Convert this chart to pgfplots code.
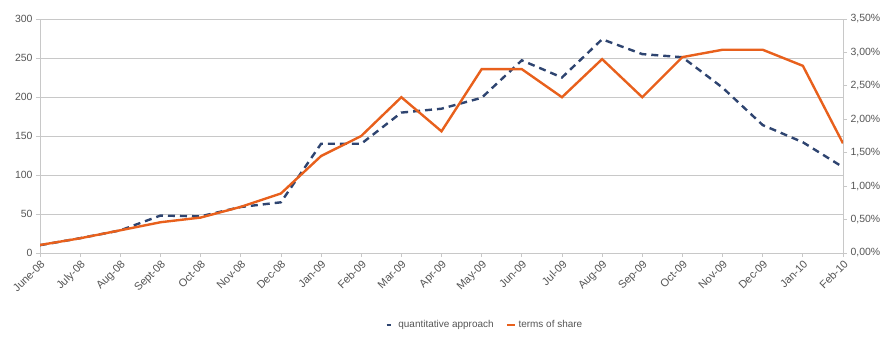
\documentclass[border=0pt]{standalone}
\usepackage{pgfplots}
\pgfplotsset{compat=1.18}
\usepackage{fontspec}
\setmainfont{Liberation Sans}

\definecolor{quantblue}{HTML}{2E4470}
\definecolor{shareorange}{HTML}{E8601C}
\definecolor{gridgray}{HTML}{C8C8C8}
\definecolor{labelgray}{HTML}{555555}

% quantitative approach (left axis)
\pgfplotstableread{
x y
0 10
1 19
2 29
3 48
4 47
5 59
6 65
7 140
8 140
9 180
10 185
11 199
12 247
13 225
14 274
15 255
16 251
17 212
18 164
19 142
20 110
}\quant

% terms of share, in percent (right axis)
\pgfplotstableread{
x y
0 0.12
1 0.22
2 0.34
3 0.46
4 0.53
5 0.69
6 0.89
7 1.45
8 1.75
9 2.33
10 1.82
11 2.75
12 2.75
13 2.33
14 2.90
15 2.33
16 2.93
17 3.04
18 3.04
19 2.80
20 1.64
}\share

\pgfplotsset{
  base/.style={
    scale only axis,
    width=803bp, height=234bp,
    xmin=0, xmax=20,
    ymin=0,
    axis line style={gridgray, line width=0.8pt},
    tick style={gridgray, line width=0.8pt},
    major tick length=4bp,
    tick align=outside,
    ticklabel style={font=\fontsize{10.5}{12}\selectfont, text=labelgray},
    /pgf/number format/assume math mode=true,
  }
}

\begin{document}
\begin{tikzpicture}
\useasboundingbox (0,0) rectangle (887bp,340bp);
\begin{axis}[
  base,
  at={(40bp,87bp)}, anchor=south west,
  ymax=300,
  ytick={0,50,...,300},
  ymajorgrids,
  grid style={gridgray, line width=0.9pt},
  axis x line*=bottom,
  axis y line*=left,
  xtick={0,...,20},
  xticklabels={June-08,July-08,Aug-08,Sept-08,Oct-08,Nov-08,Dec-08,Jan-09,Feb-09,Mar-09,Apr-09,May-09,Jun-09,Jul-09,Aug-09,Sep-09,Oct-09,Nov-09,Dec-09,Jan-10,Feb-10},
  xticklabel style={rotate=45, anchor=north east, inner sep=1.5bp, font=\fontsize{11}{12}\selectfont},
]
\addplot[quantblue, line width=2.4bp, dash pattern=on 7bp off 5bp] table[x=x,y=y]{\quant};
\end{axis}
\begin{axis}[
  base,
  at={(40bp,87bp)}, anchor=south west,
  ymax=3.5,
  ytick={0,0.5,...,3.5},
  axis y line*=right,
  axis x line=none,
  yticklabel={\pgfmathprintnumber[fixed,fixed zerofill,precision=2,use comma]{\tick}\%},
  legend style={
    at={(0.554,-0.308)}, anchor=center,
    draw=none, fill=none,
    legend columns=2,
    font=\fontsize{10}{12}\selectfont, text=labelgray,
    /tikz/every even column/.append style={column sep=10bp},
  },
  legend image post style={xscale=0.5},
]
\addlegendimage{quantblue, line width=2.4bp, dash pattern=on 4bp off 8bp}
\addlegendentry{quantitative approach}
\addplot[shareorange, line width=2.4bp] table[x=x,y=y]{\share};
\addlegendentry{terms of share}
\end{axis}
\end{tikzpicture}
\end{document}
